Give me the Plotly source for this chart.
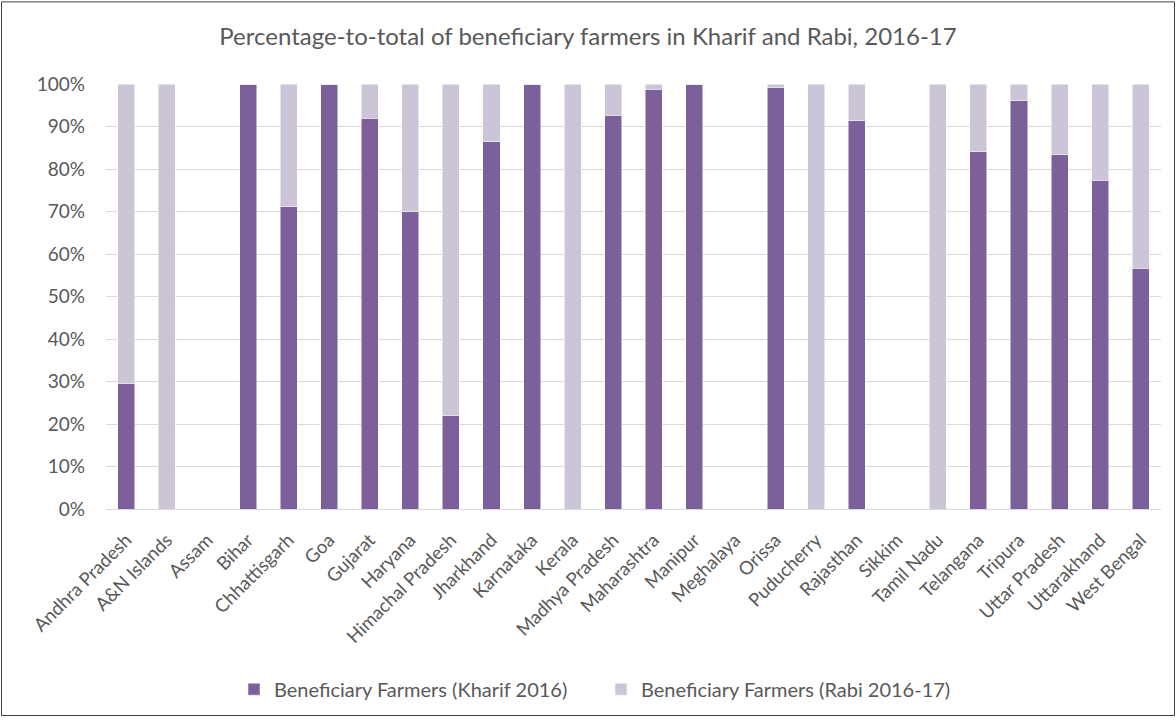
import plotly.graph_objects as go

states = ["Andhra Pradesh", "A&N Islands", "Assam", "Bihar", "Chhattisgarh", "Goa", "Gujarat",
          "Haryana", "Himachal Pradesh", "Jharkhand", "Karnataka", "Kerala", "Madhya Pradesh",
          "Maharashtra", "Manipur", "Meghalaya", "Orissa", "Puducherry", "Rajasthan", "Sikkim",
          "Tamil Nadu", "Telangana", "Tripura", "Uttar Pradesh", "Uttarakhand", "West Bengal"]
kharif = [29.5, 0, 0, 100, 71.1, 100, 92.0, 69.9, 22.0, 86.4, 100, 0, 92.6,
          98.8, 100, 0, 99.1, 0, 91.4, 0, 0, 84.1, 96.1, 83.4, 77.3, 56.7]
rabi = [70.5, 100, 0, 0, 28.9, 0, 8.0, 30.1, 78.0, 13.6, 0, 100, 7.4,
        1.2, 0, 0, 0.9, 100, 8.6, 0, 100, 15.9, 3.9, 16.6, 22.7, 43.3]
y_ticks = list(range(0, 101, 10))
y_tick_labels = [f"{v}%" for v in y_ticks]

W, H = 1176, 720
L, R, T, B = 106, 15, 84, 209
pw, ph = W - L - R, H - T - B

fig = go.Figure()
fig.add_trace(go.Bar(x=states, y=kharif, name="Beneficiary Farmers (Kharif 2016)",
                     marker=dict(color="#7B609B", line=dict(color="#FFFFFF", width=0.5))))
fig.add_trace(go.Bar(x=states, y=rabi, name="Beneficiary Farmers (Rabi 2016-17)",
                     marker=dict(color="#CCC5D8", line=dict(color="#FFFFFF", width=0.5))))

font_fam = "Lato, sans-serif"
fig.update_layout(
    barmode="stack",
    bargap=0.58,
    width=W, height=H,
    margin=dict(l=L, r=R, t=T, b=B),
    paper_bgcolor="white", plot_bgcolor="white",
    font=dict(family=font_fam, color="#595959", size=19),
    title=dict(text="Percentage-to-total of beneficiary farmers in Kharif and Rabi, 2016-17",
               x=0.5, xanchor="center", xref="container", y=1 - 37 / H, yanchor="middle",
               font=dict(size=24, color="#595959", family=font_fam)),
    xaxis=dict(tickangle=-45, showgrid=False, showline=True, linecolor="#D9D9D9", linewidth=1,
               ticks="", tickfont=dict(size=18.5, color="#595959"), ticklabelstandoff=12),
    yaxis=dict(range=[0, 100], tickmode="array", tickvals=y_ticks, ticktext=y_tick_labels,
               showgrid=True, gridcolor="#D9D9D9", gridwidth=1, zeroline=False,
               tickfont=dict(size=19, color="#595959"), ticks="", ticklabelstandoff=20),
    legend=dict(orientation="h", x=(234 - L) / pw, xanchor="left", y=(T + ph - 692) / ph,
                yanchor="middle", font=dict(size=20, color="#595959"),
                entrywidth=322, entrywidthmode="pixels", traceorder="normal"),
    showlegend=True,
    shapes=[dict(type="rect", xref="paper", yref="paper",
                 x0=(1.5 - L) / pw, x1=(W - 1.5 - L) / pw,
                 y0=-(B - 1.5) / ph, y1=1 + (T - 1.5) / ph,
                 line=dict(color="#404040", width=1), fillcolor="rgba(0,0,0,0)", layer="below")],
)

fig.write_html("out.html", config={"displayModeBar": False},
               post_script="document.body.style.margin='0';")
